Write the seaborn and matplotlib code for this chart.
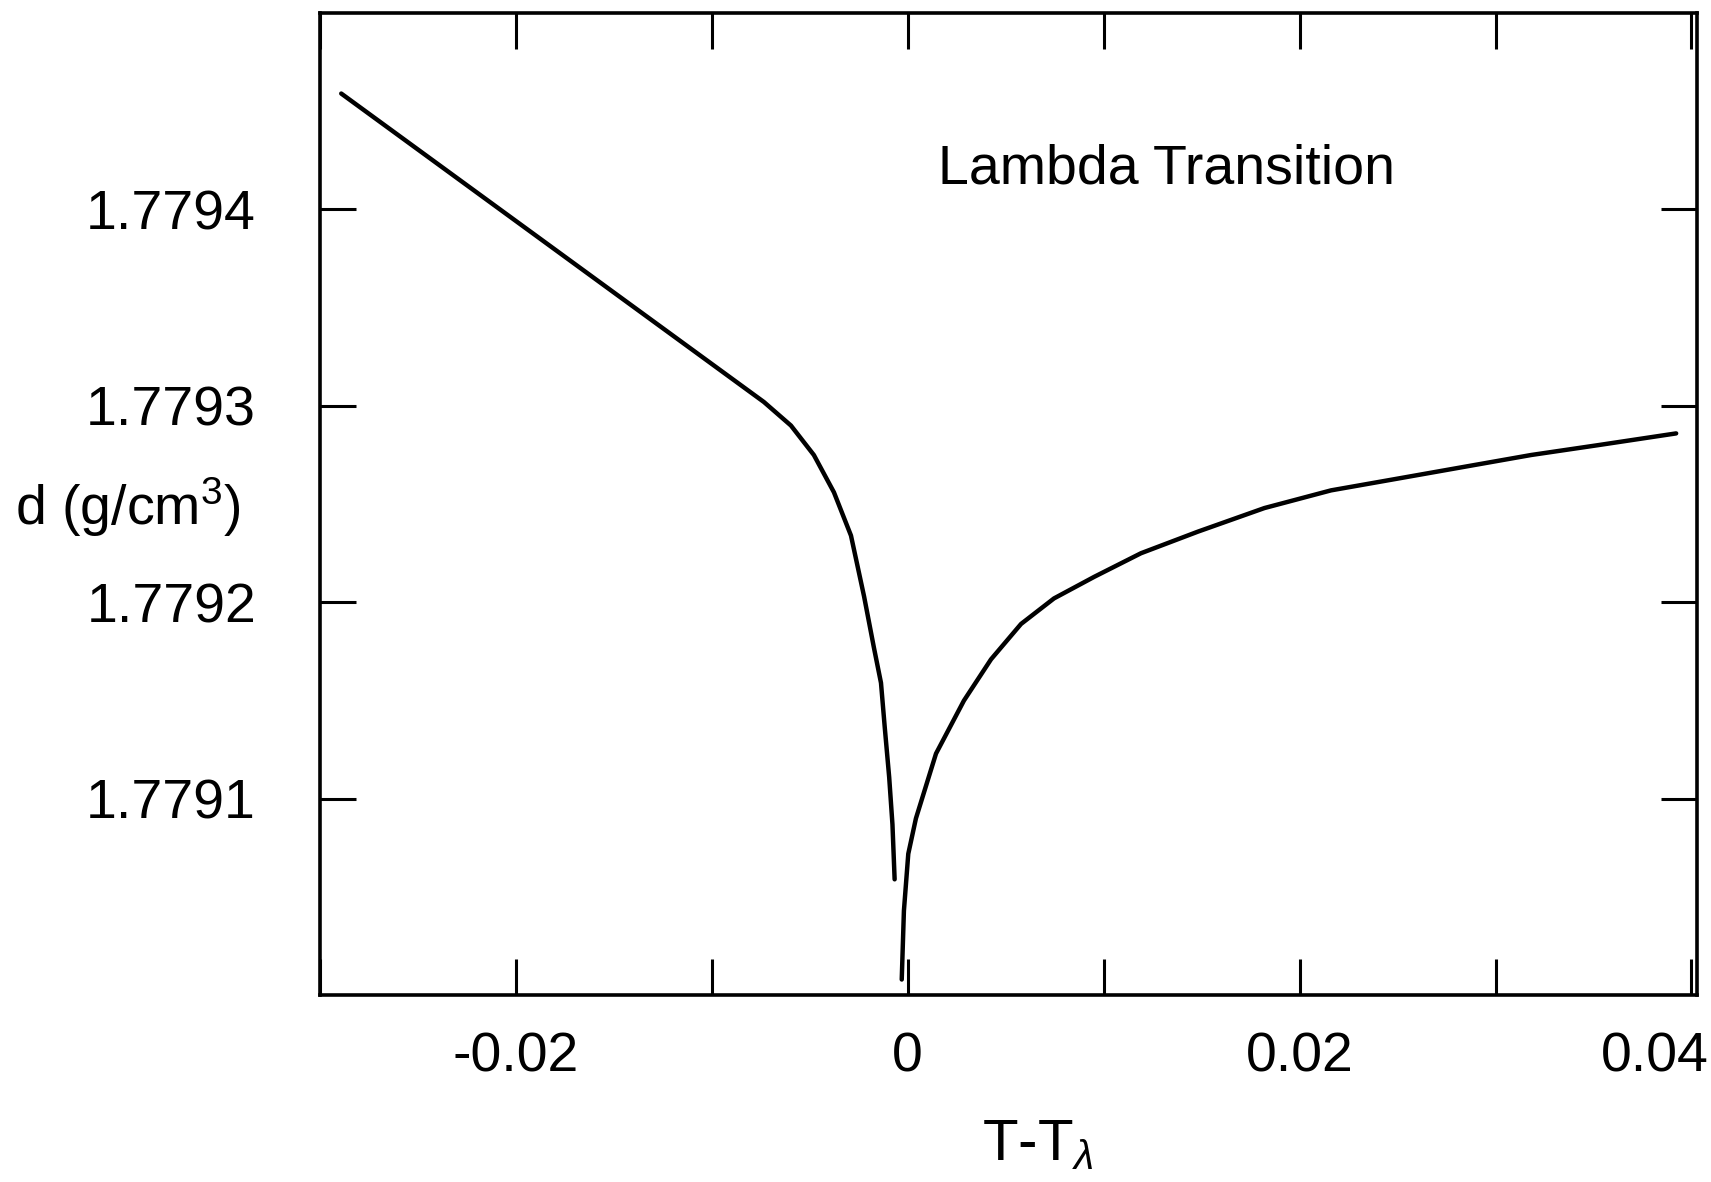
import matplotlib
matplotlib.use("Agg")
import matplotlib.pyplot as plt
from matplotlib.ticker import MultipleLocator
from matplotlib.transforms import ScaledTranslation
import seaborn as sns
import pandas as pd

# --- data ---
# below T_lambda (left branch)
t_below = [-0.028914, -0.007343, -0.005961, -0.004791, -0.003766, -0.002897,
           -0.002228, -0.001727, -0.001365, -0.001170, -0.000947, -0.000780, -0.000669]
d_below = [1.779459, 1.779302, 1.779290, 1.779275, 1.779256, 1.779234,
           1.779203, 1.779177, 1.779159, 1.779136, 1.779111, 1.779087, 1.779059]

# above T_lambda (right branch)
t_above = [-0.000306, -0.000195, 0.000028, 0.000418, 0.001443, 0.002869, 0.004251,
           0.005783, 0.007465, 0.009521, 0.011905, 0.014813, 0.018206, 0.021604,
           0.025014, 0.028412, 0.031816, 0.035220, 0.039220]
d_above = [1.779008, 1.779043, 1.779072, 1.779090, 1.779123, 1.779150, 1.779171,
           1.779189, 1.779202, 1.779213, 1.779225, 1.779236, 1.779248, 1.779257,
           1.779263, 1.779269, 1.779275, 1.779280, 1.779286]

x_ticks = [-0.02, 0.0, 0.02, 0.04]
x_ticklabels = ["-0.02", "0", "0.02", "0.04"]
y_ticks = [1.7791, 1.7792, 1.7793, 1.7794]
y_ticklabels = ["1.7791", "1.7792", "1.7793", "1.7794"]

sns.set_style("ticks")
plt.rcParams.update({
    'font.family': ['Liberation Sans', 'DejaVu Sans'],
    'mathtext.fontset': 'custom',
    'mathtext.rm': 'Liberation Sans',
    'mathtext.it': 'Liberation Sans:italic',
    'axes.linewidth': 2.6,
    'text.color': 'black',
    'axes.labelcolor': 'black',
    'xtick.color': 'black',
    'ytick.color': 'black',
})

below = pd.DataFrame({'t': t_below, 'd': d_below})
above = pd.DataFrame({'t': t_above, 'd': d_above})

fig = plt.figure(figsize=(17.11, 11.82), dpi=100)
ax = fig.add_axes([0.187, 0.158, 0.805, 0.831])

for df in (below, above):
    sns.lineplot(data=df, x='t', y='d', ax=ax, color='black', linewidth=3.2,
                 sort=False, solid_joinstyle='round', solid_capstyle='round')

ax.set_xlim(-0.03, 0.0403)
ax.set_ylim(1.7790, 1.7795)

ax.set_xticks(x_ticks)
ax.set_xticklabels(x_ticklabels, fontsize=40)
ax.xaxis.set_minor_locator(MultipleLocator(0.01))
ax.set_yticks(y_ticks)
ax.set_yticklabels(y_ticklabels, fontsize=40)

ax.tick_params(which='both', direction='in', length=26, width=2.2,
               top=True, right=True, color='black')
ax.tick_params(axis='x', which='major', pad=26)
ax.tick_params(axis='y', which='major', pad=46)

# last x label sits flush with the right edge, as in the original
last = ax.get_xticklabels()[-1]
last.set_horizontalalignment('right')
last.set_transform(last.get_transform() + ScaledTranslation(0.17, 0, fig.dpi_scale_trans))

for s in ax.spines.values():
    s.set_visible(True)
    s.set_color('black')

ax.set_xlabel(r"T-T$_\lambda$", fontsize=42)
ax.xaxis.set_label_coords(0.521, -0.125)
ax.set_ylabel("")
fig.text(0.009, 0.571, r"d (g/cm$^3$)", fontsize=40, ha='left', va='center')

ax.text(0.449, 0.841, "Lambda Transition", transform=ax.transAxes,
        fontsize=40, ha='left', va='center')

fig.savefig("out.png", dpi=100, facecolor='white')
